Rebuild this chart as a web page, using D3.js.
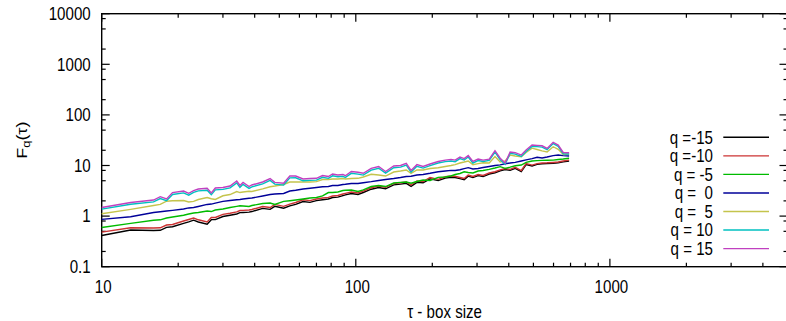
<!DOCTYPE html>
<html>
<head>
<meta charset="utf-8">
<script src="https://cdn.jsdelivr.net/npm/d3@7/dist/d3.min.js"></script>
<style>
  body { margin: 0; background: #fff; }
  text { font-family: "Liberation Sans", Arial, sans-serif; fill: #000; white-space: pre; }
</style>
</head>
<body>
<svg id="chart" width="786" height="321"></svg>
<script>
// box sizes (x) and fluctuation functions F_q (y)
const tau = [10,13,16,17,18,19,21,22,23,24, 26,27,28,30,32,34,35,36,38,39,
  43,46,48,52,55,58,62,66,70,74, 78,81,85,89,91,96,102,107,115,123,
  131,141,150,158,165,174,184,196,211,225, 237,246,257,267,277,289,303,317,335,353,
  370,387,405,424,448,468,494,517,541,566, 598,626,655,691];

const fqM15 = [0.414,0.53,0.52,0.525,0.60,0.615,0.72,0.77,0.83,0.765,
  0.69,0.85,0.85,0.98,1.04,1.10,1.17,1.18,1.20,1.23,
  1.42,1.36,1.56,1.43,1.59,1.71,1.94,1.87,2.02,2.11,
  2.18,2.33,2.37,2.54,2.62,2.79,2.67,2.93,3.40,3.68,
  3.47,4.14,4.29,4.44,3.88,4.65,4.55,5.46,5.03,5.67,
  5.86,5.79,5.49,5.24,6.16,5.76,6.32,6.04,6.78,7.20,
  7.85,8.33,8.01,8.80,7.62,10.4,9.78,10.5,10.8,10.9,
  11.1,11.3,11.8,12.3];
const fqM10 = [0.483,0.587,0.582,0.587,0.667,0.683,0.800,0.856,0.917,0.845,
  0.764,0.938,0.938,1.08,1.14,1.21,1.29,1.30,1.32,1.35,
  1.55,1.48,1.70,1.56,1.73,1.86,2.10,2.02,2.18,2.28,
  2.35,2.50,2.55,2.73,2.82,2.99,2.86,3.13,3.63,3.93,
  3.70,4.41,4.57,4.72,4.12,4.94,4.83,5.79,5.33,6.00,
  6.20,6.12,5.79,5.53,6.49,6.06,6.64,6.34,7.11,7.54,
  8.22,8.72,8.38,9.20,7.96,10.9,10.2,10.9,11.2,11.3,
  11.5,11.7,12.3,12.8];
const fqM5 = [0.595,0.72,0.826,0.845,0.917,0.960,1.04,1.10,1.15,1.18,
  1.26,1.23,1.32,1.38,1.48,1.56,1.60,1.58,1.55,1.62,
  1.77,1.81,1.70,1.95,2.01,2.08,2.18,2.28,2.33,2.50,
  2.92,2.92,2.99,3.20,3.24,3.28,3.06,3.31,3.84,4.02,
  3.84,4.51,4.65,4.72,4.45,4.83,5.17,5.05,5.84,5.92,
  6.20,6.64,6.95,7.50,7.27,7.11,7.78,7.96,8.38,8.92,
  9.50,8.80,9.26,9.86,10.2,11.5,12.3,12.5,12.6,12.7,
  12.8,13.1,13.4,13.9];
const fq0 = [0.86,0.97,1.18,1.22,1.26,1.30,1.38,1.45,1.48,1.55,
  1.70,1.73,1.81,1.95,2.04,2.10,2.13,2.18,2.25,2.28,
  2.50,2.67,2.73,2.80,3.13,3.24,3.43,3.54,3.67,3.79,
  3.84,4.02,4.02,4.22,4.26,4.41,4.41,4.57,4.79,5.05,
  5.29,5.53,5.79,6.06,6.12,6.49,6.64,7.01,7.54,7.78,
  8.02,7.96,8.26,8.65,9.05,8.53,8.72,9.13,9.55,10.0,
  10.3,10.8,11.2,11.5,12.3,12.9,13.7,14.5,14.1,14.7,
  15.7,16.1,15.7,15.4];
const fq5 = [1.11,1.36,1.62,1.70,1.97,2.01,2.03,1.90,1.95,2.13,
  2.33,2.20,2.13,2.52,2.67,3.06,2.92,2.99,3.09,3.06,
  3.46,3.81,3.93,4.22,4.72,4.72,4.72,4.72,4.79,5.29,
  5.29,5.41,5.41,5.53,5.41,5.53,5.58,5.92,6.70,6.49,
  6.20,7.44,7.78,8.15,7.01,8.15,8.15,8.72,9.05,9.55,
  9.99,10.4,11.2,11.7,12.3,10.4,10.9,11.3,11.2,15.0,
  11.7,12.3,16.1,15.4,14.9,18.1,22.0,20.7,19.5,18.5,
  23.5,20.9,16.5,16.9];
const fq10 = [1.37,1.71,1.91,2.22,2.01,2.68,2.88,2.60,2.94,3.15,
  3.25,2.64,3.30,3.37,3.61,4.53,3.70,4.24,3.53,3.79,
  4.34,5.09,4.28,4.10,5.70,5.72,4.98,5.09,5.14,5.84,
  5.58,6.25,5.98,6.11,5.78,7.00,6.76,6.46,8.12,8.82,
  7.05,9.05,9.28,10.2,7.40,9.68,8.90,9.98,11.2,11.9,
  12.3,11.9,13.7,12.8,14.7,11.2,12.5,12.0,12.6,18.4,
  13.0,10.5,17.4,16.8,15.1,19.0,23.9,23.6,23.1,20.5,
  27.1,24.0,17.1,16.9];
const fq15 = [1.48,1.86,2.08,2.42,2.18,2.92,3.13,2.82,3.20,3.43,
  3.54,2.86,3.59,3.67,3.93,4.94,4.02,4.61,3.84,4.12,
  4.72,5.53,4.65,4.45,6.20,6.20,5.41,5.53,5.58,6.34,
  6.06,6.79,6.49,6.64,6.28,7.61,7.34,7.01,8.80,9.55,
  7.61,9.77,10.0,11.0,7.96,10.4,9.55,10.7,12.0,12.8,
  13.2,12.8,14.7,13.7,15.7,12.0,13.4,12.8,13.4,19.6,
  13.9,11.2,18.5,17.9,16.1,20.2,25.4,25.0,24.5,21.7,
  28.7,25.4,18.1,17.9];

const seriesValues = [fqM15, fqM10, fqM5, fq0, fq5, fq10, fq15];
const qLabels = ['q =-15', 'q =-10', 'q = -5', 'q =  0', 'q =  5', 'q = 10', 'q = 15'];
const colors = ['#000000', '#cc3333', '#00bb00', '#000099', '#c4c44c', '#00c0c0', '#c040c0'];

const xMajor = [10, 100, 1000];
const yMajor = [0.1, 1, 10, 100, 1000, 10000];
const yMajorLabels = ['0.1', '1', '10', '100', '1000', '10000'];

// layout
const plotLeft = 101.7, plotRight = 787.5, plotTop = 13.7, plotBottom = 266.7;
const squeeze = 0.84; // glyphs in the picture are narrow
const fontSize = 18;

const x = d3.scaleLog().domain([10, 5000]).range([plotLeft, plotRight]);
const y = d3.scaleLog().domain([0.1, 10000]).range([plotBottom, plotTop]);

const svg = d3.select('#chart');

svg.append('rect').attr('width', 786).attr('height', 321).attr('fill', '#fff');

// minor ticks
const xMinor = [];
xMajor.forEach(d => { for (let k = 2; k <= 9; k++) if (d * k < 5000) xMinor.push(d * k); });
const yMinor = [];
yMajor.slice(0, -1).forEach(d => [2, 5, 8].forEach(k => yMinor.push(d * k)));

const ticks = svg.append('g').attr('stroke', '#000').attr('stroke-width', 1.2);

function xTicks(vals, len) {
  vals.forEach(v => {
    ticks.append('line').attr('x1', x(v)).attr('x2', x(v)).attr('y1', plotBottom).attr('y2', plotBottom - len);
    ticks.append('line').attr('x1', x(v)).attr('x2', x(v)).attr('y1', plotTop).attr('y2', plotTop + len);
  });
}
function yTicks(vals, len) {
  vals.forEach(v => {
    ticks.append('line').attr('x1', plotLeft).attr('x2', plotLeft + len).attr('y1', y(v)).attr('y2', y(v));
    ticks.append('line').attr('x1', plotRight).attr('x2', plotRight - len).attr('y1', y(v)).attr('y2', y(v));
  });
}
xTicks(xMajor, 8);
xTicks(xMinor, 4);
yTicks(yMajor, 8);
yTicks(yMinor, 4);

// border
svg.append('rect')
  .attr('x', plotLeft).attr('y', plotTop)
  .attr('width', plotRight - plotLeft).attr('height', plotBottom - plotTop)
  .attr('fill', 'none').attr('stroke', '#000').attr('stroke-width', 1.4);

// tick labels
yMajor.forEach((v, i) => {
  svg.append('text')
    .attr('transform', `translate(90.7,${y(v)}) scale(${squeeze},1)`)
    .attr('dy', '0.35em')
    .attr('text-anchor', 'end')
    .style('font-size', fontSize + 'px')
    .text(yMajorLabels[i]);
});
xMajor.forEach(v => {
  svg.append('text')
    .attr('transform', `translate(${x(v) + 1.5},292.7) scale(${squeeze},1)`)
    .attr('text-anchor', 'middle')
    .style('font-size', fontSize + 'px')
    .text(d3.format('d')(v));
});

// axis titles
svg.append('text')
  .attr('transform', `translate(${(plotLeft + plotRight) / 2},317.5) scale(${squeeze},1)`)
  .attr('text-anchor', 'middle')
  .style('font-size', fontSize + 'px')
  .text('τ - box size');

const yTitle = svg.append('text')
  .attr('transform', `translate(27,${(plotTop + plotBottom) / 2}) rotate(-90) scale(1,${squeeze})`)
  .attr('text-anchor', 'middle')
  .style('font-size', fontSize + 'px');
yTitle.append('tspan').text('F');
yTitle.append('tspan').attr('dy', 4).style('font-size', '13px').text('q');
yTitle.append('tspan').attr('dy', -4).text('(τ)');

// data lines
const line = d3.line()
  .x(d => x(d[0]))
  .y(d => y(d[1]));

seriesValues.forEach((vals, i) => {
  svg.append('path')
    .datum(tau.map((t, j) => [t, vals[j]]))
    .attr('d', line)
    .attr('fill', 'none')
    .attr('stroke', colors[i])
    .attr('stroke-width', 1.4)
    .attr('stroke-linejoin', 'miter');
});

// legend
const legend = svg.selectAll('.legend')
  .data(qLabels)
  .enter()
  .append('g')
  .attr('class', 'legend')
  .attr('transform', (d, i) => `translate(0,${137.3 + i * 18.55})`);

legend.append('text')
  .attr('transform', `translate(713,0) scale(${squeeze},1)`)
  .attr('dy', '0.35em')
  .attr('text-anchor', 'end')
  .style('font-size', fontSize + 'px')
  .text(d => d);

legend.append('line')
  .attr('x1', 723.3).attr('x2', 769)
  .attr('stroke', (d, i) => colors[i])
  .attr('stroke-width', 1.4);
</script>
</body>
</html>
